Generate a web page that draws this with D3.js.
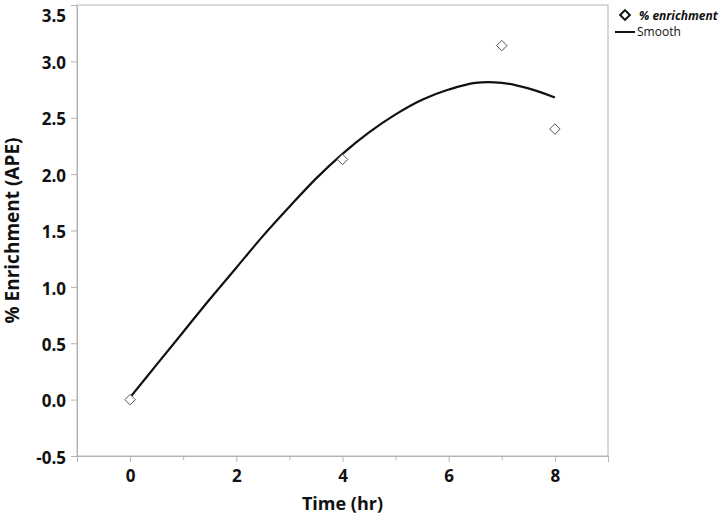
<!DOCTYPE html>
<html>
<head>
<meta charset="utf-8">
<script src="https://cdn.jsdelivr.net/npm/d3@7"></script>
<style>
  body { margin: 0; background: #fff; }
  text { font-family: "Open Sans", "Noto Sans", sans-serif; }
</style>
</head>
<body>
<svg id="chart" width="722" height="516"></svg>
<script>
// measured points
let timeHr = [0, 4, 7, 8];
let enrichment = [0.0, 2.13, 3.14, 2.40];

// smoother fit
let smoothX = [0, 0.5, 1, 1.5, 2, 2.5, 3, 3.5, 4, 4.5, 5, 5.5, 6, 6.5, 7, 7.5, 8];
let smoothY = [0.02, 0.31, 0.60, 0.89, 1.17, 1.45, 1.71, 1.96, 2.18, 2.37, 2.53, 2.66, 2.75, 2.81, 2.81, 2.76, 2.68];

let xTicks = [0, 2, 4, 6, 8];
let xMinor = [-1, 1, 3, 5, 7, 9];
let yTicks = [-0.5, 0, 0.5, 1, 1.5, 2, 2.5, 3, 3.5];

let svg = d3.select("#chart");
let margin = { left: 77, right: 114, top: 5, bottom: 60 };
let width = 722 - margin.left - margin.right;
let height = 516 - margin.top - margin.bottom;

let g = svg.append("g")
    .attr("transform", `translate(${margin.left},${margin.top})`);

let x = d3.scaleLinear().domain([-1, 9]).range([0, width]);
let y = d3.scaleLinear().domain([-0.5, 3.5]).range([height, 0]);

let frameColor = "#b4b4b4";

// frame
g.append("rect")
    .attr("x", 0).attr("y", 0)
    .attr("width", width).attr("height", height)
    .attr("fill", "none")
    .attr("stroke", frameColor);

// x axis, major + minor
let xAxis = g.append("g")
    .attr("transform", `translate(0,${height})`)
    .call(d3.axisBottom(x).tickValues(xTicks).tickFormat(d3.format("d")).tickSize(6).tickPadding(8));
g.append("g")
    .attr("transform", `translate(0,${height})`)
    .call(d3.axisBottom(x).tickValues(xMinor).tickFormat("").tickSize(4))
    .call(a => a.select(".domain").remove())
    .selectAll("line").attr("stroke", frameColor);

let yAxis = g.append("g")
    .call(d3.axisLeft(y).tickValues(yTicks).tickFormat(d => d.toFixed(1)).tickSize(6).tickPadding(5));

[xAxis, yAxis].forEach(a => {
    a.select(".domain").attr("stroke", frameColor);
    a.selectAll(".tick line").attr("stroke", frameColor);
    a.selectAll(".tick text")
        .attr("font-size", 17)
        .attr("font-weight", "bold")
        .attr("fill", "#111");
});

// y labels sit a touch low; the top one is kept inside the page
yAxis.selectAll(".tick text")
    .attr("dy", d => d === 3.5 ? "0.95em" : "0.42em");

// smooth curve
let line = d3.line()
    .x((d, i) => x(smoothX[i]))
    .y(d => y(d))
    .curve(d3.curveCatmullRom);

g.append("path")
    .datum(smoothY)
    .attr("d", line)
    .attr("fill", "none")
    .attr("stroke", "#111")
    .attr("stroke-width", 2.2);

// diamond markers
let diamond = d3.symbol().type(d3.symbolDiamond2).size(70);
g.selectAll(".pt")
    .data(enrichment)
    .join("path")
    .attr("class", "pt")
    .attr("d", diamond)
    .attr("transform", (d, i) => `translate(${x(timeHr[i])},${y(d)})`)
    .attr("fill", "#fff")
    .attr("stroke", "#555")
    .attr("stroke-width", 1);

// axis titles
svg.append("text")
    .text("Time (hr)")
    .attr("x", margin.left + width / 2)
    .attr("y", 510)
    .attr("text-anchor", "middle")
    .attr("font-size", 18)
    .attr("font-weight", "bold")
    .attr("fill", "#111");

svg.append("text")
    .text("% Enrichment (APE)")
    .attr("transform", `translate(19,${margin.top + height / 2}) rotate(-90)`)
    .attr("text-anchor", "middle")
    .attr("font-size", 19)
    .attr("font-weight", "bold")
    .attr("fill", "#111");

// legend
let lg = svg.append("g").attr("transform", "translate(615,0)");
lg.append("path")
    .attr("d", d3.symbol().type(d3.symbolDiamond2).size(60))
    .attr("transform", "translate(10,15)")
    .attr("fill", "#fff")
    .attr("stroke", "#111")
    .attr("stroke-width", 2);
lg.append("text")
    .text("% enrichment")
    .attr("x", 24).attr("y", 15)
    .attr("dominant-baseline", "central")
    .attr("font-size", 12)
    .attr("font-style", "italic")
    .attr("font-weight", "bold")
    .attr("fill", "#111");
lg.append("line")
    .attr("x1", 0).attr("x2", 20)
    .attr("y1", 32).attr("y2", 32)
    .attr("stroke", "#111")
    .attr("stroke-width", 2);
lg.append("text")
    .text("Smooth")
    .attr("x", 22).attr("y", 31)
    .attr("dominant-baseline", "central")
    .attr("font-size", 12)
    .attr("fill", "#111");
</script>
</body>
</html>
